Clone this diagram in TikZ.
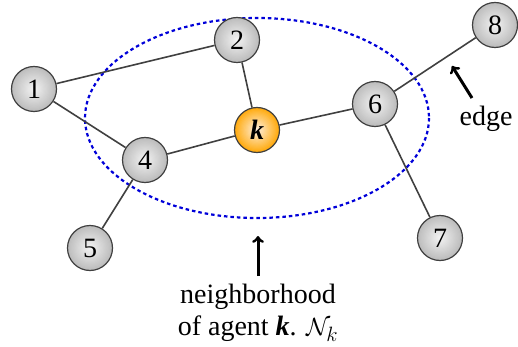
\documentclass[tikz,border=0pt]{standalone}
\usepackage{fontspec}
\setmainfont{Liberation Serif}
\colorlet{gin}{gray!8}
\colorlet{gout}{gray!55}
\colorlet{oin}{orange!10}
\colorlet{oout}{orange!70!yellow}
\tikzset{
  ballfill/.style n args={2}{path picture={
    \foreach \i [evaluate=\i as \r using 24*(1-\i/20), evaluate=\i as \p using 5*\i] in {0,...,19}
      {\fill[#1!\p!#2] (path picture bounding box.center) circle[radius=\r];}}},
  agent/.style={circle, draw=black!75, line width=1.2pt, minimum size=45pt, inner sep=0pt,
    ballfill={gin}{gout}, font=\fontsize{28}{30}\selectfont},
  center agent/.style={agent, ballfill={oin}{oout}},
  link/.style={draw=black!75, line width=1.6pt},
  pointer/.style={line width=3pt, -to},
  lbl/.style={font=\fontsize{28}{32}\selectfont, align=center}
}
\begin{document}
\begin{tikzpicture}[x=1pt,y=-1pt]
\useasboundingbox (0,0) rectangle (518,347);
\draw[blue!85!black, line width=2.2pt, dash pattern=on 3.5pt off 3pt] (257,118) ellipse [x radius=172, y radius=100];
\node[agent] (n1) at (34,89) {1};
\node[agent] (n2) at (237,40) {2};
\node[center agent] (k) at (257,130) {\bfseries\itshape k};
\node[agent] (n4) at (145,160) {4};
\node[agent] (n5) at (90,248) {5};
\node[agent] (n6) at (375,104) {6};
\node[agent] (n7) at (440,238) {7};
\node[agent] (n8) at (495,25) {8};
\draw[link] (n1) -- (n2);
\draw[link] (n1) -- (n4);
\draw[link] (n2) -- (k);
\draw[link] (k) -- (n4);
\draw[link] (k) -- (n6);
\draw[link] (n6) -- (n8);
\draw[link] (n6) -- (n7);
\draw[link] (n4) -- (n5);
\node[lbl] (edge) at (486,119) {edge};
\coordinate (et) at (472,98);
\coordinate (eh) at (452,66);
\draw[pointer] (et) -- (eh);
\node[lbl] (nb) at (258,313) {neighborhood\\of agent \textbf{\textit{k}}. $\mathcal{N}_k$};
\coordinate (nt) at (258,276);
\coordinate (nh) at (258,236);
\draw[pointer] (nt) -- (nh);
\end{tikzpicture}
\end{document}
